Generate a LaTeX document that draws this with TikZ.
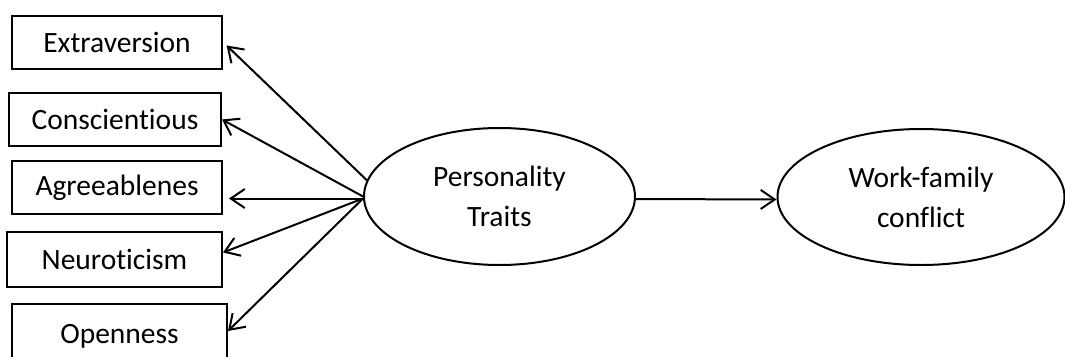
\documentclass[tikz,border=0pt]{standalone}
\usepackage{fontspec}
\setmainfont{Carlito}[Ligatures=NoCommon]
\usetikzlibrary{shapes.geometric,arrows.meta}
\begin{document}
\begin{tikzpicture}[x=1pt,y=-1pt,
  trait/.style={draw,line width=2pt,minimum height=53pt,inner sep=0pt,font=\fontsize{29.5}{36}\selectfont},
  latent/.style={draw,ellipse,line width=2pt,inner sep=0pt,align=center,font=\fontsize{29.5}{40}\selectfont},
  link/.style={line width=2pt,-{Straight Barb[length=14pt,width=19pt,line width=2pt]}}]
 \useasboundingbox (0,0) rectangle (1065,356);
 \node[trait,minimum width=210pt] (ext) at (117,42) {Extraversion};
 \node[trait,minimum width=212pt] (con) at (115,119.5) {Conscientious};
 \node[trait,minimum width=210pt] (agr) at (117,187.5) {Agreeablenes};
 \node[trait,minimum width=215pt,minimum height=55pt] (neu) at (114.5,259.5) {Neuroticism};
 \node[trait,minimum width=215pt,minimum height=60pt,text depth=0pt] (ope) at (119.5,334) {Openness};
 \node[latent,minimum width=271pt,minimum height=137pt] (pt) at (499.5,196.5) {Personality\\Traits};
 \node[latent,minimum width=287pt,minimum height=136pt] (wf) at (921,197) {Work-family\\conflict};
 \coordinate (ptw) at ([yshift=-2pt]pt.west);
 \draw[link,shorten >=5pt] (pt.173) -- (ext.east);
 \draw[link] (pt.west) -- (con.east);
 \draw[link,shorten >=6pt] (ptw) -- (agr.east |- ptw);
 \draw[link] (ptw) -- ([yshift=7pt]neu.east);
 \draw[link] (ptw) -- ([yshift=3pt]ope.east);
 \draw[link] ([yshift=-2.5pt]pt.east) -- ([yshift=-2.5pt]wf.west);
\end{tikzpicture}
\end{document}
